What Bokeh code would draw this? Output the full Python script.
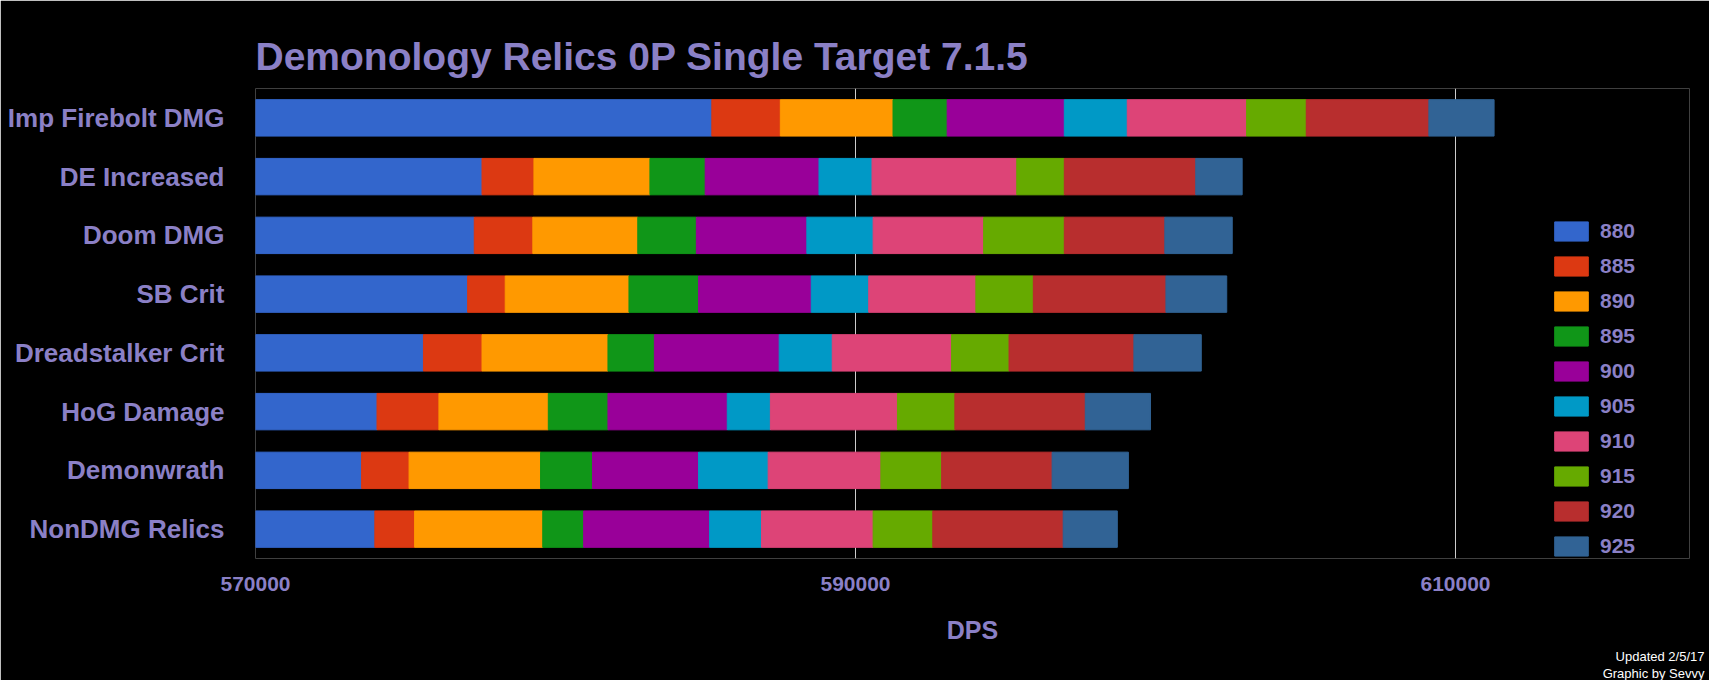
from bokeh.plotting import figure
from bokeh.models import Legend, LegendItem, Title, FixedTicker, NumeralTickFormatter
from bokeh.embed import file_html
from bokeh.resources import INLINE

relics = ["Imp Firebolt DMG", "DE Increased", "Doom DMG", "SB Crit",
          "Dreadstalker Crit", "HoG Damage", "Demonwrath", "NonDMG Relics"]
ilvls = ["880", "885", "890", "895", "900", "905", "910", "915", "920", "925"]
colors = ["#3366cc", "#dc3912", "#ff9900", "#109618", "#990099",
          "#0099c6", "#dd4477", "#66aa00", "#b82e2e", "#316395"]
base = 570000
# DPS at each item level, per relic
dps = {
    "Imp Firebolt DMG": [585211, 587494, 591251, 593056, 596960, 599059, 603037, 605025, 609113, 611286],
    "DE Increased": [577550, 579281, 583148, 584990, 588783, 590551, 595376, 596960, 601342, 602889],
    "Doom DMG": [577292, 579244, 582743, 584695, 588378, 590588, 594271, 596960, 600311, 602558],
    "SB Crit": [577071, 578324, 582449, 584769, 588525, 590441, 594013, 595928, 600348, 602374],
    "Dreadstalker Crit": [575598, 577550, 581749, 583296, 587457, 589225, 593203, 595118, 599280, 601526],
    "HoG Damage": [574051, 576114, 579760, 581749, 585726, 587163, 591398, 593313, 597659, 599832],
    "Demonwrath": [573536, 575119, 579502, 581233, 584769, 587089, 590846, 592871, 596554, 599096],
    "NonDMG Relics": [573978, 575304, 579576, 580939, 585137, 586868, 590588, 592577, 596923, 598727],
}

purple = "#8b80c6"
p = figure(width=1709, height=680, y_range=relics[::-1], x_range=(570000, 617800),
           output_backend="svg", toolbar_location=None,
           background_fill_color="black", border_fill_color="black",
           min_border_left=255, min_border_right=20, min_border_top=88)
p.outline_line_color = None
items = []
for i, lv in enumerate(ilvls):
    lefts, rights = [], []
    for r in relics:
        vals = dps[r]
        lefts.append(base if i == 0 else vals[i - 1])
        rights.append(vals[i])
    g = p.hbar(y=relics, left=lefts, right=rights, height=0.62,
               color=colors[i], line_color=colors[i])
    items.append(LegendItem(label=lv, renderers=[g]))

p.title.text = "Demonology Relics 0P Single Target 7.1.5"
p.title.text_font = "Liberation Sans"
p.title.text_font_size = "39px"
p.title.text_color = purple
p.title.text_font_style = "bold"
p.title.standoff = 22

p.xaxis.ticker = FixedTicker(ticks=[570000, 590000, 610000])
p.xaxis.formatter = NumeralTickFormatter(format="0")
p.xaxis.axis_label = "DPS"
for ax in (p.xaxis, p.yaxis):
    ax.axis_line_color = None
    ax.major_tick_line_color = None
    ax.minor_tick_line_color = None
    ax.major_label_text_color = purple
    ax.major_label_text_font = "Liberation Sans"
    ax.major_label_text_font_style = "bold"
p.xaxis.major_label_text_font_size = "21px"
p.yaxis.major_label_text_font_size = "26px"
p.xaxis.axis_label_text_color = purple
p.xaxis.axis_label_text_font = "Liberation Sans"
p.xaxis.axis_label_text_font_style = "bold"
p.xaxis.axis_label_text_font_size = "25px"
p.xaxis.axis_label_standoff = 22
p.xaxis.major_label_standoff = 12
p.yaxis.major_label_standoff = 25
p.xgrid.grid_line_color = "#cccccc"
p.ygrid.grid_line_color = None

legend = Legend(items=items, location=(1295, 0), background_fill_color="black",
                background_fill_alpha=0.0,
                border_line_color=None, label_text_color=purple,
                label_text_font="Liberation Sans", label_text_font_style="bold",
                label_text_font_size="21px", glyph_width=42, glyph_height=24,
                spacing=11, label_standoff=8, margin=0)
p.add_layout(legend, "center")

for t in ["Updated 2/5/17", "Graphic by Sevvy"]:
    p.add_layout(Title(text=t, align="right", text_color="white", text_font="Liberation Sans",
                       text_font_size="13px", text_font_style="normal", offset=-15,
                       standoff=0), "below")

open("out.html", "w").write(file_html(p, INLINE))
